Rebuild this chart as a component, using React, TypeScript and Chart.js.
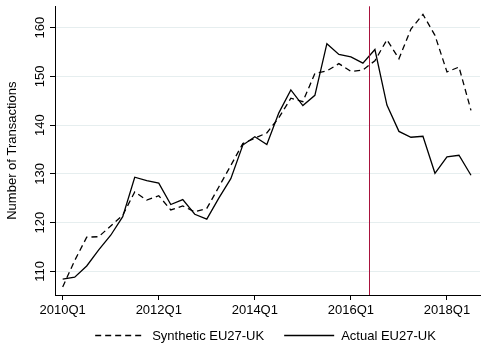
import React, { useEffect, useRef } from 'react';
import { Chart, registerables } from 'chart.js';

Chart.register(...registerables);

const quarters = [
  '2010Q1', '2010Q2', '2010Q3', '2010Q4',
  '2011Q1', '2011Q2', '2011Q3', '2011Q4',
  '2012Q1', '2012Q2', '2012Q3', '2012Q4',
  '2013Q1', '2013Q2', '2013Q3', '2013Q4',
  '2014Q1', '2014Q2', '2014Q3', '2014Q4',
  '2015Q1', '2015Q2', '2015Q3', '2015Q4',
  '2016Q1', '2016Q2', '2016Q3', '2016Q4',
  '2017Q1', '2017Q2', '2017Q3', '2017Q4',
  '2018Q1', '2018Q2', '2018Q3',
];

const synthetic = [
  106.8, 112.2, 117.0, 117.1, 119.3, 121.5, 126.3, 124.6,
  125.5, 122.6, 123.4, 122.2, 122.9, 127.3, 131.7, 136.2,
  137.3, 138.4, 141.5, 145.5, 144.8, 150.6, 151.1, 152.6,
  151.0, 151.3, 153.2, 157.5, 153.6, 159.7, 162.7, 158.4,
  150.9, 151.9, 143.0,
];

const actual = [
  108.4, 108.8, 111.1, 114.4, 117.4, 121.2, 129.3, 128.6,
  128.1, 123.7, 124.7, 121.7, 120.7, 125.0, 129.0, 135.9,
  137.6, 136.0, 142.5, 147.2, 144.0, 146.1, 156.7, 154.5,
  154.0, 152.7, 155.5, 144.1, 138.7, 137.5, 137.7, 130.1,
  133.5, 133.8, 129.7,
];

const yTicks = [110, 120, 130, 140, 150, 160];
const xTickLabels = ['2010Q1', '2012Q1', '2014Q1', '2016Q1', '2018Q1'];
// reference line between 2016Q2 and 2016Q3 (quarter index)
const referendumIndex = 25.5;

const FONT = "'Liberation Sans', Arial, Helvetica, sans-serif";

export default function App() {
  const ref = useRef<HTMLCanvasElement>(null);

  useEffect(() => {
    document.body.style.margin = '0';
    const canvas = ref.current;
    if (!canvas) return;

    const xlinePlugin = {
      id: 'xline',
      afterDatasetsDraw(chart: any) {
        const { ctx, chartArea, scales } = chart;
        const x = Math.round(scales.x.getPixelForValue(referendumIndex)) + 0.5;
        ctx.save();
        ctx.strokeStyle = '#a8123c';
        ctx.lineWidth = 1;
        ctx.beginPath();
        ctx.moveTo(x, chartArea.top);
        ctx.lineTo(x, chartArea.bottom);
        ctx.stroke();
        ctx.restore();
      },
    };

    const legendPlugin = {
      id: 'bottomLegend',
      afterDraw(chart: any) {
        const { ctx, chartArea } = chart;
        const fontSize = 13;
        ctx.save();
        ctx.font = `${fontSize}px ${FONT}`;
        const sample = 50;
        const gap = 7;
        const spacing = 20;
        const items = chart.data.datasets.map((ds: any) => ({
          ds,
          w: ctx.measureText(ds.label).width,
        }));
        const total =
          items.reduce((s: number, it: any) => s + sample + gap + it.w, 0) +
          spacing * (items.length - 1);
        let x = (chartArea.left + chartArea.right) / 2 - 2 - total / 2;
        const y = chart.height - 17.5;
        items.forEach((it: any) => {
          ctx.strokeStyle = it.ds.borderColor;
          ctx.lineWidth = it.ds.borderWidth;
          ctx.setLineDash(it.ds.borderDash || []);
          ctx.beginPath();
          ctx.moveTo(x, y - 1);
          ctx.lineTo(x + sample, y - 1);
          ctx.stroke();
          ctx.setLineDash([]);
          ctx.fillStyle = '#000';
          ctx.textBaseline = 'middle';
          ctx.textAlign = 'left';
          ctx.fillText(it.ds.label, x + sample + gap, y);
          x += sample + gap + it.w + spacing;
        });
        ctx.restore();
      },
    };

    const chart = new Chart(canvas, {
      type: 'line',
      data: {
        datasets: [
          {
            label: 'Synthetic EU27-UK',
            data: synthetic.map((v, i) => ({ x: i, y: v })),
            borderColor: '#000',
            backgroundColor: 'transparent',
            borderWidth: 1.3,
            borderDash: [6, 4],
            pointRadius: 0,
            tension: 0,
          },
          {
            label: 'Actual EU27-UK',
            data: actual.map((v, i) => ({ x: i, y: v })),
            borderColor: '#000',
            backgroundColor: 'transparent',
            borderWidth: 1.3,
            pointRadius: 0,
            tension: 0,
          },
        ],
      },
      options: {
        responsive: false,
        animation: false,
        events: [],
        layout: { padding: { top: 6, right: 8, left: 0, bottom: 0 } },
        plugins: {
          legend: { display: false },
          tooltip: { enabled: false },
        },
        scales: {
          x: {
            type: 'linear',
            min: -0.64,
            max: 34.75,
            afterFit: (scale: any) => {
              scale.height = 59;
            },
            afterBuildTicks: (scale: any) => {
              scale.ticks = xTickLabels.map((l) => ({ value: quarters.indexOf(l) }));
            },
            grid: {
              drawOnChartArea: false,
              drawTicks: true,
              tickLength: 5,
              tickColor: '#000',
              tickWidth: 1,
            },
            border: { display: true, color: '#000', width: 1 },
            ticks: {
              color: '#000',
              padding: 3,
              maxRotation: 0,
              minRotation: 0,
              font: { family: FONT, size: 13 },
              callback: (v: any) => quarters[Math.round(Number(v))] ?? '',
            },
          },
          y: {
            type: 'linear',
            min: 105.14,
            max: 164.36,
            afterFit: (scale: any) => {
              scale.width = 55;
            },
            afterBuildTicks: (scale: any) => {
              scale.ticks = yTicks.map((v) => ({ value: v }));
            },
            grid: {
              color: '#e6eeef',
              lineWidth: 1,
              drawTicks: true,
              tickLength: 5,
              tickColor: '#000',
              tickWidth: 1,
            },
            border: { display: true, color: '#000', width: 1 },
            ticks: {
              color: '#000',
              padding: -1.5,
              minRotation: 90,
              maxRotation: 90,
              crossAlign: 'center',
              font: { family: FONT, size: 13 },
            },
            title: {
              display: true,
              text: 'Number of Transactions',
              color: '#000',
              font: { family: FONT, size: 13 },
              padding: { top: 4.5, bottom: 0 },
            },
          },
        },
      },
      plugins: [xlinePlugin, legendPlugin],
    } as any);

    return () => {
      chart.destroy();
    };
  }, []);

  return <canvas ref={ref} width={488} height={354} style={{ display: 'block' }} />;
}
